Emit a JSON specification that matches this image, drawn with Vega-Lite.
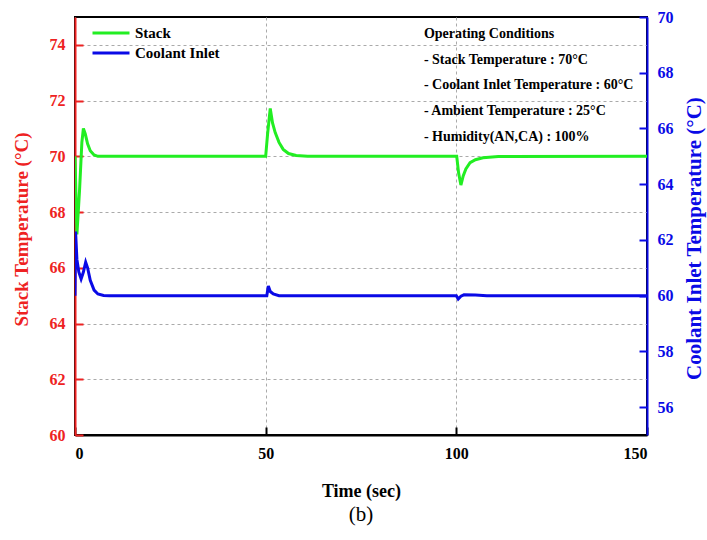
{
  "$schema": "https://vega.github.io/schema/vega-lite/v6.json",
  "width": 572,
  "height": 418,
  "autosize": {"type": "none"},
  "padding": {"left": 75, "top": 17, "right": 60, "bottom": 105},
  "background": "white",
  "title": {"text": "(b)", "orient": "bottom", "font": "Liberation Serif", "fontSize": 21, "fontWeight": "normal", "color": "black", "offset": 4},
  "datasets": {
    "stack": [
      {"t": 0, "v": 70.0}, {"t": 0.5, "v": 67.2}, {"t": 1.2, "v": 68.8}, {"t": 1.8, "v": 70.5},
      {"t": 2.2, "v": 71.0}, {"t": 2.7, "v": 70.8}, {"t": 3.3, "v": 70.45}, {"t": 4, "v": 70.2},
      {"t": 5, "v": 70.05}, {"t": 6, "v": 70.0}, {"t": 50, "v": 70.0}, {"t": 50.5, "v": 70.8},
      {"t": 51.2, "v": 71.72}, {"t": 51.8, "v": 71.2}, {"t": 52.5, "v": 70.85}, {"t": 53.5, "v": 70.5},
      {"t": 54.6, "v": 70.25}, {"t": 56, "v": 70.1}, {"t": 58, "v": 70.03}, {"t": 61, "v": 70.0},
      {"t": 100.1, "v": 70.0}, {"t": 100.6, "v": 69.4}, {"t": 101.2, "v": 68.97}, {"t": 101.8, "v": 69.3},
      {"t": 102.5, "v": 69.55}, {"t": 103.6, "v": 69.77}, {"t": 105, "v": 69.88}, {"t": 107, "v": 69.95},
      {"t": 111, "v": 69.99}, {"t": 150, "v": 70.0}
    ],
    "coolant": [
      {"t": 0, "v": 60.0}, {"t": 0.15, "v": 62.3}, {"t": 0.5, "v": 61.3}, {"t": 1.0, "v": 60.85},
      {"t": 1.6, "v": 60.6}, {"t": 2.2, "v": 60.85}, {"t": 2.8, "v": 61.2}, {"t": 3.3, "v": 61.0},
      {"t": 4, "v": 60.55}, {"t": 5, "v": 60.2}, {"t": 6, "v": 60.06}, {"t": 7.5, "v": 60.01},
      {"t": 9, "v": 60.0}, {"t": 50.3, "v": 60.0}, {"t": 50.7, "v": 60.35}, {"t": 51.2, "v": 60.15},
      {"t": 52, "v": 60.06}, {"t": 53.5, "v": 60.0}, {"t": 100.0, "v": 60.0}, {"t": 100.5, "v": 59.88},
      {"t": 101.2, "v": 59.98}, {"t": 102, "v": 60.03}, {"t": 105, "v": 60.02}, {"t": 108, "v": 60.0},
      {"t": 150, "v": 60.0}
    ]
  },
  "layer": [
    {
      "data": {"name": "stack"},
      "mark": {"type": "line", "strokeWidth": 3, "clip": true},
      "encoding": {
        "x": {
          "field": "t", "type": "quantitative",
          "scale": {"domain": [0, 150], "nice": false},
          "axis": {
            "values": [0, 50, 100, 150], "title": "Time (sec)",
            "grid": true, "gridDash": [3, 3], "gridColor": "#aaaaaa", "gridWidth": 1,
            "domainColor": "black", "domainWidth": 2, "tickColor": "black", "tickWidth": 2, "tickSize": -8,
            "labelFont": "Liberation Serif", "labelFontWeight": "bold", "labelFontSize": 16, "labelColor": "black", "labelPadding": 18,
            "titleFont": "Liberation Serif", "titleFontWeight": "bold", "titleFontSize": 18, "titleColor": "black", "titlePadding": 21
          }
        },
        "y": {
          "field": "v", "type": "quantitative",
          "scale": {"domain": [60, 75], "nice": false, "zero": false},
          "axis": {
            "orient": "left", "values": [60, 62, 64, 66, 68, 70, 72, 74], "title": "Stack Temperature (°C)",
            "grid": true, "gridDash": [3, 3], "gridColor": "#aaaaaa", "gridWidth": 1,
            "domainColor": "#ee2222", "domainWidth": 2, "tickColor": "#ee2222", "tickWidth": 2, "tickSize": -8,
            "labelFont": "Liberation Serif", "labelFontWeight": "bold", "labelFontSize": 16, "labelColor": "#ee2222", "labelPadding": 18,
            "titleFont": "Liberation Serif", "titleFontWeight": "bold", "titleFontSize": 19, "titleColor": "#ee2222", "titlePadding": 18, "titleY": 212
          }
        },
        "color": {
          "datum": "Stack", "type": "nominal",
          "scale": {"domain": ["Stack", "Coolant Inlet"], "range": ["#22ee22", "#0a0ae6"]},
          "legend": {
            "orient": "none", "legendX": 25, "legendY": 5, "title": null, "symbolType": "M-2,0H2", "symbolSize": 342, "symbolStrokeWidth": 3,
            "labelFont": "Liberation Serif", "labelFontWeight": "bold", "labelFontSize": 15, "labelColor": "black",
            "padding": 0, "rowPadding": 1, "labelOffset": 13
          }
        }
      }
    },
    {
      "data": {"name": "coolant"},
      "mark": {"type": "line", "strokeWidth": 3, "clip": true},
      "encoding": {
        "x": {"field": "t", "type": "quantitative"},
        "y": {
          "field": "v", "type": "quantitative",
          "scale": {"domain": [55, 70], "nice": false, "zero": false},
          "axis": {
            "orient": "right", "values": [56, 58, 60, 62, 64, 66, 68, 70], "title": "Coolant Inlet Temperature (°C)",
            "grid": false,
            "domainColor": "#0a0ae6", "domainWidth": 2, "tickColor": "#0a0ae6", "tickWidth": 2, "tickSize": -8,
            "labelFont": "Liberation Serif", "labelFontWeight": "bold", "labelFontSize": 16, "labelColor": "#0a0ae6", "labelPadding": 18,
            "titleFont": "Liberation Serif", "titleFontWeight": "bold", "titleFontSize": 21, "titleColor": "#0a0ae6", "titlePadding": 10,
            "titleAngle": 270, "titleY": 221, "titleBaseline": "top"
          }
        },
        "color": {"datum": "Coolant Inlet", "type": "nominal"}
      }
    },
    {
      "data": {"values": [{}]},
      "mark": {
        "type": "text", "align": "left", "baseline": "middle",
        "font": "Liberation Serif", "fontWeight": "bold", "fontSize": 14, "color": "black", "lineHeight": 25.7,
        "text": ["Operating Conditions", "- Stack Temperature : 70°C", "- Coolant Inlet Temperature : 60°C", "- Ambient Temperature : 25°C", "- Humidity(AN,CA) : 100%"]
      },
      "encoding": {
        "x": {"datum": 91.5, "type": "quantitative"},
        "y": {"datum": 74.39, "type": "quantitative", "scale": {"domain": [60, 75], "nice": false, "zero": false}, "axis": null}
      }
    }
  ],
  "resolve": {"scale": {"y": "independent"}},
  "config": {
    "view": {"stroke": "black", "strokeWidth": 2}
  }
}
